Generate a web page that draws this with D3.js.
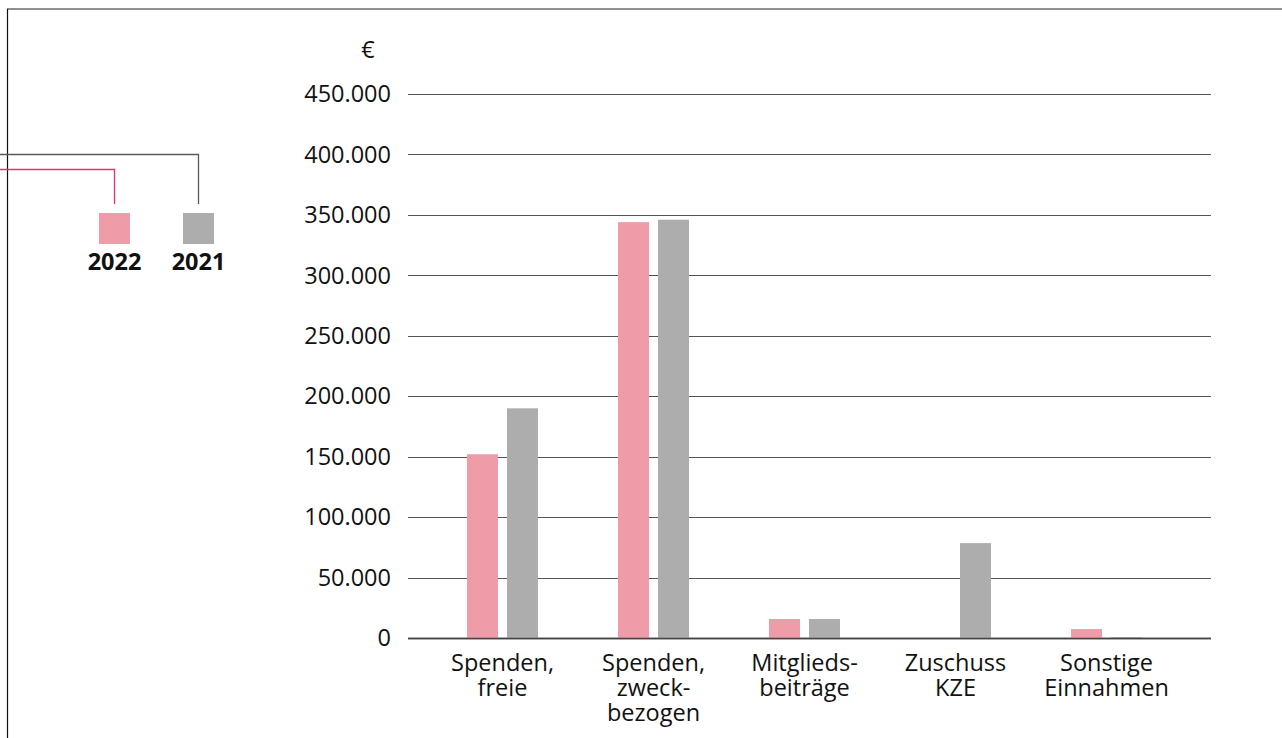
<!DOCTYPE html>
<html>
<head>
<meta charset="utf-8">
<script src="https://cdn.jsdelivr.net/npm/d3@7"></script>
<style>
  body { margin: 0; background: #fff; }
  svg { display: block; font-family: "Open Sans", "Noto Sans", sans-serif; }
</style>
</head>
<body>
<script>
// data
var categories = [["Spenden,", "freie"], ["Spenden,", "zweck-", "bezogen"], ["Mitglieds-", "beiträge"], ["Zuschuss", "KZE"], ["Sonstige", "Einnahmen"]];
var series = ["2022", "2021"];
var values2022 = [152000, 344000, 15700, 0, 7400];
var values2021 = [190000, 346000, 15700, 78500, 800];
var yTicks = [0, 50000, 100000, 150000, 200000, 250000, 300000, 350000, 400000, 450000];
var colors = ["#ee9ca7", "#adadad"];

var width = 1282, height = 738;
var svg = d3.select("body").append("svg")
    .attr("width", width)
    .attr("height", height);

// frame lines
svg.append("line").attr("x1", 7).attr("x2", width).attr("y1", 9).attr("y2", 9)
    .attr("stroke", "#6b6b6b").attr("stroke-width", 1.5);
svg.append("line").attr("x1", 7.5).attr("x2", 7.5).attr("y1", 9).attr("y2", height)
    .attr("stroke", "#111").attr("stroke-width", 1.2);

var y = d3.scaleLinear().domain([0, 450000]).range([638, 94]);
var x0 = d3.scaleBand().domain(d3.range(categories.length)).range([427, 1182]);
var x1 = d3.scaleBand().domain(series).range([0, 71]).paddingInner(0.225);

// gridlines
svg.append("g").selectAll("line").data(yTicks).join("line")
    .attr("x1", 408).attr("x2", 1211)
    .attr("y1", function(d){ return Math.round(y(d)) + 0.5; })
    .attr("y2", function(d){ return Math.round(y(d)) + 0.5; })
    .attr("stroke", function(d){ return d === 0 ? "#444" : "#555"; })
    .attr("stroke-width", function(d){ return d === 0 ? 1.5 : 1; });

// y labels
var fmt = function(d){ return d3.format(",")(d).replace(/,/g, "."); };
svg.append("g").selectAll("text").data(yTicks).join("text")
    .attr("x", 391)
    .attr("y", function(d){ return y(d); })
    .attr("dy", "0.35em")
    .attr("text-anchor", "end")
    .attr("font-size", 23.5)
    .attr("fill", "#111")
    .text(fmt);

svg.append("text").attr("x", 368).attr("y", 58).attr("text-anchor", "middle")
    .attr("font-size", 23.5).attr("fill", "#111").text("€");

// bars
var rows = categories.map(function(c, i){
    return { i: i, vals: [values2022[i], values2021[i]] };
});
var groups = svg.append("g").selectAll("g").data(rows).join("g")
    .attr("transform", function(d){ return "translate(" + (x0(d.i) + x0.bandwidth() / 2 - 35.5) + ",0)"; });
groups.selectAll("rect")
    .data(function(d){ return d.vals.map(function(v, k){ return { s: series[k], v: v, k: k }; }); })
    .join("rect")
    .attr("x", function(d){ return x1(d.s); })
    .attr("width", x1.bandwidth())
    .attr("y", function(d){ return y(d.v); })
    .attr("height", function(d){ return y(0) - y(d.v); })
    .attr("fill", function(d){ return colors[d.k]; });

// redraw the baseline over the bars
svg.append("line").attr("x1", 408).attr("x2", 1211)
    .attr("y1", Math.round(y(0)) + 0.5).attr("y2", Math.round(y(0)) + 0.5)
    .attr("stroke", "#444").attr("stroke-width", 1.5);

// category labels, one text per line
var lab = svg.append("g").selectAll("g").data(categories).join("g")
    .attr("transform", function(d, i){ return "translate(" + (x0(i) + x0.bandwidth() / 2) + ",671)"; });
lab.selectAll("text").data(function(d){ return d; }).join("text")
    .attr("text-anchor", "middle")
    .attr("font-size", 23.5)
    .attr("fill", "#111")
    .attr("y", function(d, j){ return j * 25; })
    .text(function(d){ return d; });

// legend with connector lines
var legX = [114.5, 198.5];
var legY = [169, 154];
var legStroke = ["#e5306b", "#5a5a5a"];
series.forEach(function(s, k){
    svg.append("path")
        .attr("d", "M0," + (legY[k] + 0.5) + "H" + legX[k] + "V" + 204)
        .attr("fill", "none")
        .attr("stroke", legStroke[k])
        .attr("stroke-width", 1.3);
    svg.append("rect")
        .attr("x", legX[k] - 15.5).attr("y", 213)
        .attr("width", 31).attr("height", 31)
        .attr("fill", colors[k]);
    svg.append("text")
        .attr("x", legX[k]).attr("y", 270)
        .attr("text-anchor", "middle")
        .attr("font-size", 23.5)
        .attr("font-weight", "bold")
        .attr("fill", "#111")
        .text(s);
});
</script>
</body>
</html>
